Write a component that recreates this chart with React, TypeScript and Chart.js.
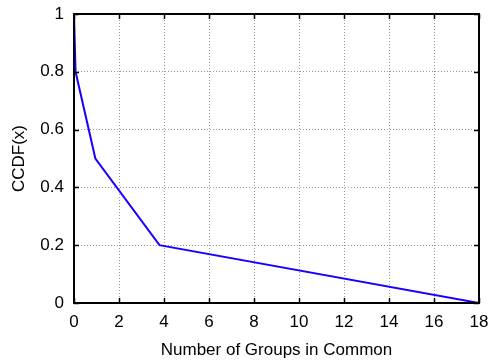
import React, { useEffect, useRef } from "react";
import { Chart, registerables } from "chart.js";

Chart.register(...registerables);

const xValues = [0, 0.07, 0.95, 3.8, 18];
const ccdfValues = [1, 0.8, 0.5, 0.2, 0];
const xTicks = [0, 2, 4, 6, 8, 10, 12, 14, 16, 18];
const yTicks = [0, 0.2, 0.4, 0.6, 0.8, 1];

const FONT = "Liberation Sans, Arial, sans-serif";

const frame = {
  id: "frame",
  afterDraw(chart: any) {
    const { ctx, chartArea: a, scales } = chart;
    ctx.save();
    ctx.strokeStyle = "#000";
    ctx.lineWidth = 1.5;
    const len = 5;
    ctx.beginPath();
    xTicks.forEach((v) => {
      const px = Math.round(scales.x.getPixelForValue(v)) + 0.5;
      ctx.moveTo(px, a.bottom);
      ctx.lineTo(px, a.bottom - len);
      ctx.moveTo(px, a.top);
      ctx.lineTo(px, a.top + len);
    });
    yTicks.forEach((v) => {
      const py = Math.round(scales.y.getPixelForValue(v)) + 0.5;
      ctx.moveTo(a.left, py);
      ctx.lineTo(a.left + len, py);
      ctx.moveTo(a.right, py);
      ctx.lineTo(a.right - len, py);
    });
    ctx.stroke();
    ctx.lineWidth = 2;
    ctx.strokeRect(a.left, a.top, a.right - a.left, a.bottom - a.top);
    ctx.restore();
  },
};

export default function App() {
  const ref = useRef<HTMLCanvasElement>(null);
  useEffect(() => {
    const chart = new Chart(ref.current!, {
      type: "line",
      data: {
        datasets: [
          {
            data: xValues.map((x, i) => ({ x, y: ccdfValues[i] })),
            borderColor: "#1a00ff",
            borderWidth: 2,
            pointRadius: 0,
            tension: 0,
            fill: false,
          },
        ],
      },
      options: {
        animation: false,
        responsive: false,
        layout: { padding: { left: 0, right: 14, top: 14, bottom: 0 } },
        plugins: { legend: { display: false }, tooltip: { enabled: false } },
        scales: {
          x: {
            type: "linear",
            min: 0,
            max: 18,
            afterFit: (s: any) => {
              s.height = 58;
              s.paddingLeft = 0;
              s.paddingRight = 0;
            },
            afterBuildTicks: (s: any) => {
              s.ticks = xTicks.map((v) => ({ value: v }));
            },
            ticks: {
              color: "#000",
              font: { family: FONT, size: 17 },
              padding: 9,
              maxRotation: 0,
            },
            grid: { color: "#999", lineWidth: 1, drawTicks: false },
            border: { display: true, color: "#000", width: 2, dash: [1, 2] },
            title: {
              display: true,
              text: "Number of Groups in Common",
              color: "#000",
              font: { family: FONT, size: 17 },
              padding: { top: 0, bottom: 0 },
            },
          },
          y: {
            type: "linear",
            min: 0,
            max: 1,
            afterFit: (s: any) => {
              s.width = 74;
              s.paddingTop = 0;
              s.paddingBottom = 0;
            },
            afterBuildTicks: (s: any) => {
              s.ticks = yTicks.map((v) => ({ value: v }));
            },
            ticks: {
              color: "#000",
              font: { family: FONT, size: 17 },
              padding: 10,
              callback: (v: any) => String(v),
            },
            grid: { color: "#999", lineWidth: 1, drawTicks: false },
            border: { display: true, color: "#000", width: 2, dash: [1, 2] },
            title: {
              display: true,
              text: "CCDF(x)",
              color: "#000",
              font: { family: FONT, size: 17 },
              padding: { top: 9, bottom: 0 },
            },
          },
        },
      },
      plugins: [frame],
    });
    return () => chart.destroy();
  }, []);
  return (
    <div style={{ position: "fixed", left: 0, top: 0, width: 493, height: 361, background: "#fff" }}>
      <canvas ref={ref} width={493} height={361} style={{ width: 493, height: 361 }} />
    </div>
  );
}
